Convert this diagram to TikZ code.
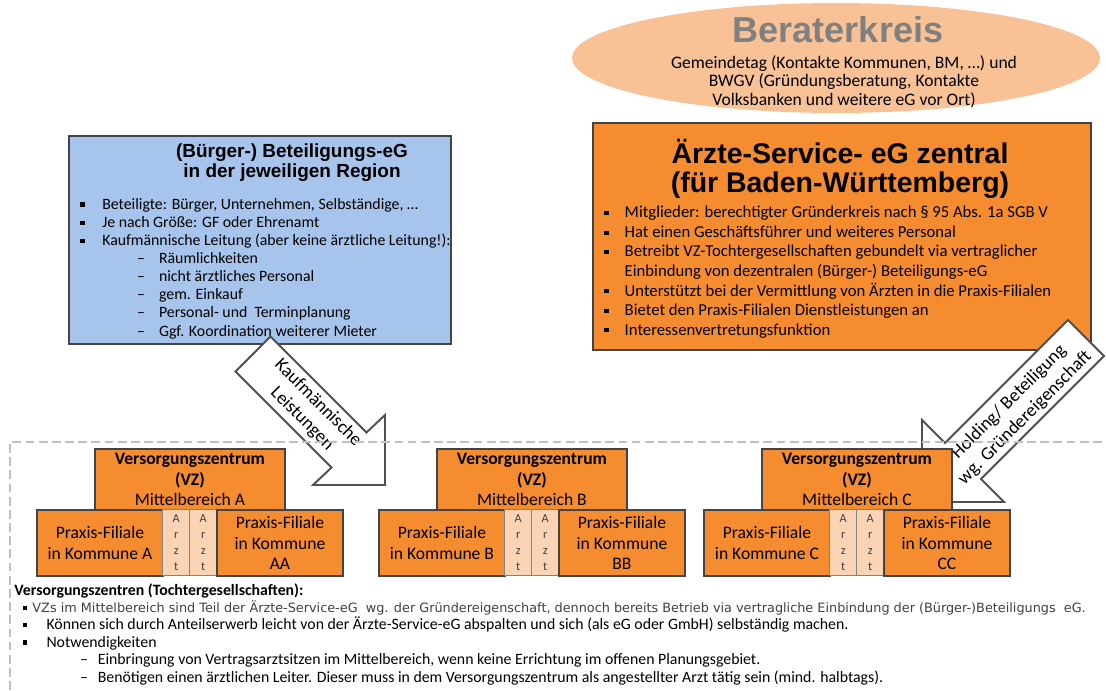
\documentclass[tikz,border=0pt]{standalone}
\usepackage{fontspec}
\setmainfont{Carlito}
\newfontfamily\headfont{Liberation Sans}
\newfontfamily\notefont{DejaVu Sans}
\usetikzlibrary{shapes.geometric}

\definecolor{vzorange}{RGB}{245,140,48}
\definecolor{regionblue}{RGB}{167,196,236}
\definecolor{beraterpeach}{RGB}{249,194,150}
\definecolor{arztpeach}{RGB}{251,212,182}
\definecolor{boxframe}{RGB}{68,68,68}
\definecolor{arztframe}{RGB}{130,130,130}
\definecolor{arrowgray}{RGB}{80,80,80}
\definecolor{dashgray}{RGB}{192,192,192}
\definecolor{titlegray}{RGB}{128,128,128}

\newcommand{\sqbul}{\rule[1.5pt]{2.4pt}{2.4pt}}
\newcommand{\bitem}[1]{\makebox[#1][l]{\sqbul}}
\newcommand{\ditem}[2]{\hspace*{#1}\makebox[#2][l]{--}}

\begin{document}
\begin{tikzpicture}[x=0.02cm, y=-0.02cm,
  framed/.style={draw=boxframe, line width=1.1pt, anchor=north west, inner sep=0},
  vzbox/.style={framed, fill=vzorange, align=center, font=\fontsize{10}{11.8}\selectfont},
  arztbox/.style={draw=arztframe, line width=0.8pt, fill=arztpeach, anchor=north west, inner sep=0,
    minimum width=0.54cm, minimum height=1.32cm, align=center, text=black!75,
    font=\fontsize{7}{9}\selectfont},
  blockarrow/.style={draw=arrowgray, line width=1.1pt, fill=white, line join=miter},
  arrowtext/.style={align=center, inner sep=0, font=\fontsize{10.5}{12.8}\selectfont},
  listtext/.style={align=left, anchor=base west, inner sep=0}]
\useasboundingbox (0,0) rectangle (1106,690);

% Beraterkreis
\node[ellipse, fill=beraterpeach, minimum width=10.56cm, minimum height=2.2cm, inner sep=0] (berater) at (836,58) {};
\node[inner sep=0, text=titlegray, font=\headfont\bfseries\fontsize{20.5}{22}\selectfont] (beratertitle) at (838,30) {Beraterkreis};
% (base = Grundlinie der letzten Zeile)
\node[align=center, anchor=base, inner sep=0, font=\fontsize{10}{10.5}\selectfont] (beratertext) at (844,105)
  {Gemeindetag (Kontakte Kommunen, BM, \dots) und\\BWGV (Gründungsberatung, Kontakte\\Volksbanken und weitere eG vor Ort)};

% regionale Beteiligungs-eG
\node[framed, fill=regionblue, minimum width=7.64cm, minimum height=4.16cm] (region) at (68,135) {};
\node[align=center, anchor=base, inner sep=0, font=\headfont\bfseries\fontsize{10.8}{11.3}\selectfont] (regiontitle) at (292,177)
  {(Bürger-) Beteiligungs-eG\\in der jeweiligen Region};
\node[listtext, font=\fontsize{9}{10.3}\selectfont] (regionlist) at (80,336) {%
  \bitem{12.5pt}Beteiligte: Bürger, Unternehmen, Selbständige, \dots\\
  \bitem{12.5pt}Je nach Größe: GF oder Ehrenamt\\
  \bitem{12.5pt}Kaufmännische Leitung (aber keine ärztliche Leitung!):\\
  \ditem{32.3pt}{12.5pt}Räumlichkeiten\\
  \ditem{32.3pt}{12.5pt}nicht ärztliches Personal\\
  \ditem{32.3pt}{12.5pt}gem. Einkauf\\
  \ditem{32.3pt}{12.5pt}Personal- und\ \ Terminplanung\\
  \ditem{32.3pt}{12.5pt}Ggf. Koordination weiterer Mieter};

% zentrale Aerzte-Service-eG
\node[framed, fill=vzorange, minimum width=9.96cm, minimum height=4.54cm] (central) at (592,122) {};
\node[align=center, anchor=base, inner sep=0, font=\headfont\bfseries\fontsize{16.2}{16.3}\selectfont] (centraltitle) at (840,192)
  {Ärzte-Service- eG zentral\\(für Baden-Württemberg)};
\node[listtext, font=\fontsize{9.5}{11.1}\selectfont] (centrallist) at (604,335) {%
  \bitem{11.6pt}Mitglieder: berechtigter Gründerkreis nach § 95 Abs. 1a SGB V\\
  \bitem{11.6pt}Hat einen Geschäftsführer und weiteres Personal\\
  \bitem{11.6pt}Betreibt VZ-Tochtergesellschaften gebundelt via vertraglicher\\
  \hspace*{11.6pt}Einbindung von dezentralen (Bürger-) Beteiligungs-eG\\
  \bitem{11.6pt}Unterstützt bei der Vermittlung von Ärzten in die Praxis-Filialen\\
  \bitem{11.6pt}Bietet den Praxis-Filialen Dienstleistungen an\\
  \bitem{11.6pt}Interessenvertretungsfunktion};

% Blockpfeile
\draw[blockarrow] (270.5,336.5) -- (366.5,432.5) -- (385,415) -- (385,485) -- (313,485) -- (331.5,467.5) -- (235.5,371.5) -- cycle;
\node[arrowtext, rotate=-45] (kaufm) at (310,411) {Kaufmännische\\Leistungen};
\draw[blockarrow] (1068,320) -- (945,443) -- (922,420) -- (922,502) -- (1004,502) -- (981,479) -- (1104,356) -- cycle;
\node[arrowtext, rotate=45] (holding) at (1017,410) {Holding/ Beteiligung\\wg. Gründereigenschaft};

% Rahmen
\draw[dashgray, line width=0.9pt, dash pattern=on 5pt off 2.5pt] (10,690) -- (10,442) -- (1106,442);

% Versorgungszentren
\foreach \gx/\mb in {36/A, 378/B, 703/C} {
  \node[vzbox, minimum width=3.8cm, minimum height=1.22cm] (vz\mb) at (\gx+58,448)
    {\bfseries Versorgungszentrum\\\bfseries (VZ)\\Mittelbereich \mb};
  \node[vzbox, minimum width=2.52cm, minimum height=1.32cm] (praxis\mb) at (\gx,509)
    {Praxis-Filiale\\in Kommune \mb};
  \node[arztbox] (arztone\mb) at (\gx+126,509) {A\\r\\z\\t};
  \node[arztbox] (arzttwo\mb) at (\gx+153,509) {A\\r\\z\\t};
  \node[vzbox, minimum width=2.52cm, minimum height=1.32cm] (praxis\mb\mb) at (\gx+180,509)
    {Praxis-Filiale\\in Kommune\\\mb\mb};
}

% Erlaeuterungen
\node[listtext, font=\fontsize{9}{9.9}\selectfont] (notes) at (14,682) {%
  {\bfseries Versorgungszentren (Tochtergesellschaften):}\\
  \hspace*{5pt}\bitem{5.3pt}{\notefont\fontsize{7.3}{8}\selectfont\color{black!75}VZs im Mittelbereich sind Teil der Ärzte-Service-eG\ \ wg. der Gründereigenschaft, dennoch bereits Betrieb via vertragliche Einbindung der (Bürger-)Beteiligungs\ \ eG.}\\
  \hspace*{5pt}\bitem{13.3pt}Können sich durch Anteilserwerb leicht von der Ärzte-Service-eG abspalten und sich (als eG oder GmbH) selbständig machen.\\
  \hspace*{5pt}\bitem{13.3pt}Notwendigkeiten\\
  \ditem{37.5pt}{10pt}Einbringung von Vertragsarztsitzen im Mittelbereich, wenn keine Errichtung im offenen Planungsgebiet.\\
  \ditem{37.5pt}{10pt}Benötigen einen ärztlichen Leiter. Dieser muss in dem Versorgungszentrum als angestellter Arzt tätig sein (mind. halbtags).};
\end{tikzpicture}
\end{document}
